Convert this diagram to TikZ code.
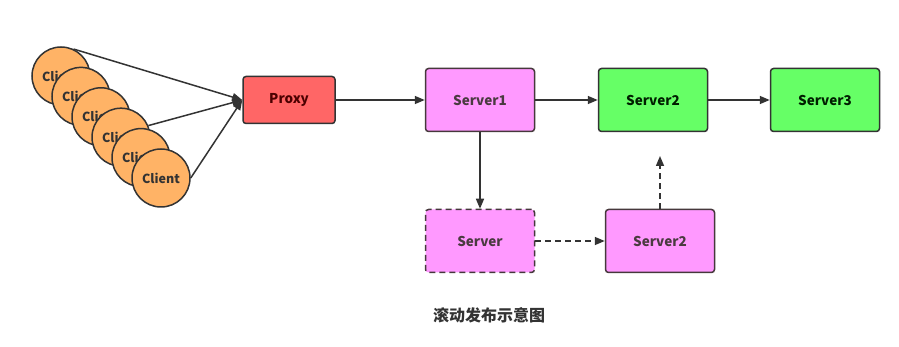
\documentclass[tikz,border=0pt]{standalone}
\usepackage{fontspec}
\setmainfont{Noto Sans CJK SC}
\usepackage{tikz}
\usetikzlibrary{positioning, arrows.meta}
\usepackage{xcolor}

\definecolor{clientfill}{HTML}{FFB366}
\definecolor{proxyfill}{HTML}{FF6666}
\definecolor{serverfill}{HTML}{FF99FF}
\definecolor{greenfill}{HTML}{66FF66}
\definecolor{edgeline}{HTML}{333333}

\tikzset{
    client/.style={circle, draw=edgeline, fill=clientfill, line width=1.5pt,
        minimum size=58pt, inner sep=0pt, font=\fontsize{12.5}{14}\selectfont\bfseries, text=edgeline},
    box/.style={rectangle, rounded corners=3pt, draw=edgeline, line width=1.5pt,
        minimum width=109pt, minimum height=63pt, font=\fontsize{13.5}{15}\selectfont\bfseries},
    proxybox/.style={box, fill=proxyfill, minimum width=92pt, minimum height=47pt, text=red!30!black},
    pinkbox/.style={box, fill=serverfill, draw=black!60!magenta!40!black, text=black!70!magenta!60!black},
    greenbox/.style={box, fill=greenfill, text=black!70!green!40!black},
    link/.style={-{Triangle[length=10pt,width=8pt]}, draw=edgeline, line width=1.5pt},
    dashlink/.style={link, dash pattern=on 6pt off 4pt},
}

\begin{document}
\begin{tikzpicture}[x=1pt, y=-1pt, node distance=2cm, on grid]
    \useasboundingbox[fill=white] (0,0) rectangle (899,347);

    % Clients stacked, each one covers the last label
    \foreach \i in {0,...,5}
        \node[client] (c\i) at ({61+20*\i},{76+20.4*\i}) {Client};

    \node[proxybox] (proxy) at (289,100) {Proxy};
    \node[pinkbox, right=191pt of proxy] (s1) {Server1};
    \node[greenbox, right=173pt of s1] (s2) {Server2};
    \node[greenbox, right=172pt of s2] (s3) {Server3};
    \node[pinkbox, dash pattern=on 6pt off 4pt, below=141pt of s1] (snew) {Server};
    \node[pinkbox, right=180pt of snew] (s2new) {Server2};
    \coordinate (up) at (660,156);

    \node[font=\fontsize{16}{18}\selectfont\bfseries, text=edgeline] (title) at (489,315) {滚动发布示意图};

    % Clients to proxy
    \draw[link] (c0.65) -- (proxy.west);
    \draw[link] (c3.23) -- (proxy.west);
    \draw[link] (c5.east) -- (proxy.west);
    % Main chain
    \draw[link] (proxy) -- (s1);
    \draw[link] (s1) -- (s2);
    \draw[link] (s2) -- (s3);
    \draw[link] (s1) -- (snew);
    % Rolling replacement
    \draw[dashlink] (snew) -- (s2new);
    \draw[dashlink] (s2new) -- (up);
\end{tikzpicture}
\end{document}
